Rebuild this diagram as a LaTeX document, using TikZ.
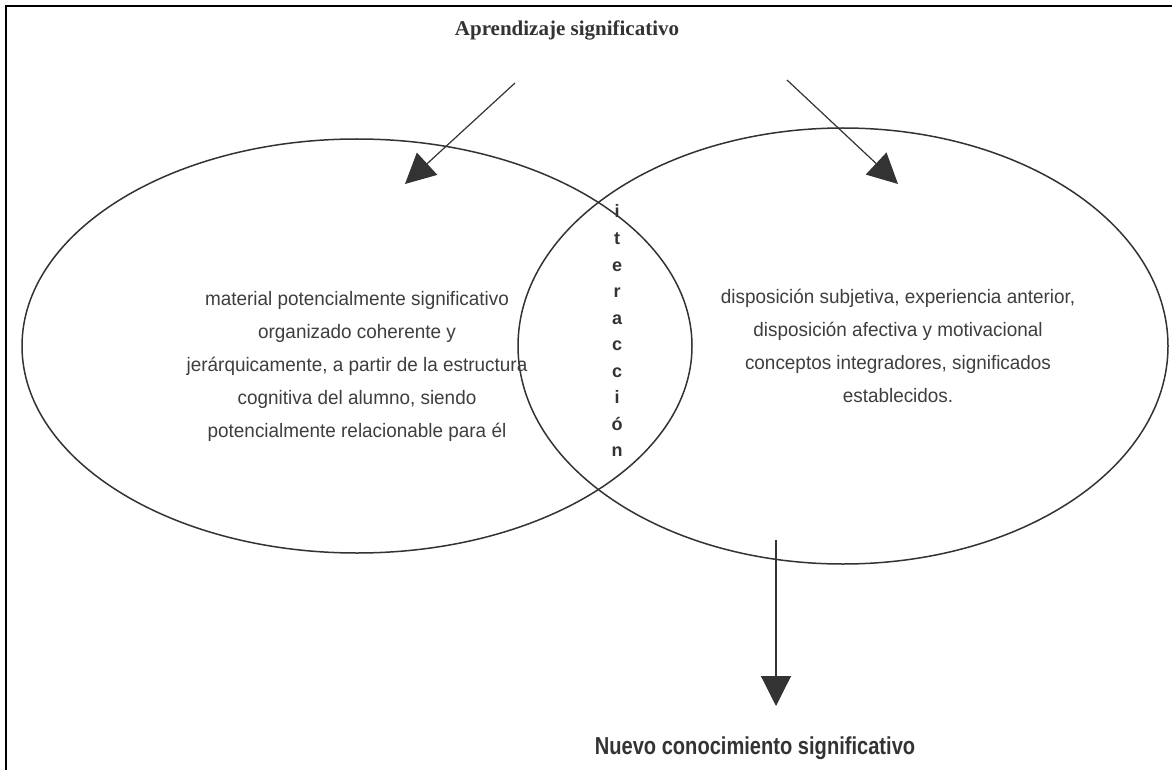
\documentclass[tikz,border=0pt]{standalone}
\usepackage{fontspec}
\setmainfont{Liberation Serif}
\newfontfamily\bodyf[FakeStretch=0.97]{Liberation Sans}
\newfontfamily\boldnarrow[FakeStretch=0.82]{Liberation Sans Bold}
\newfontfamily\letf{Liberation Sans Bold}
\usetikzlibrary{arrows.meta,shapes.geometric}
\definecolor{ink}{HTML}{333333}
\definecolor{txt}{HTML}{3E3E3E}
\tikzset{
  circ/.style={ellipse, draw=ink, line width=1.5pt, inner sep=0pt},
  arr/.style={draw=ink, line width=1.2pt, -{Triangle[length=30pt,width=30pt]}},
  body/.style={align=center, text=txt, font={\bodyf\fontsize{19.5}{33}\selectfont}},
  vlet/.style={text=ink, font={\letf\fontsize{18}{18}\selectfont}, inner sep=0pt},
  frame/.style={draw=black, line width=2.4pt}
}
\begin{document}
\begin{tikzpicture}[x=1pt,y=-1pt]
\useasboundingbox (0,0) rectangle (1172,770);
\fill[white] (0,0) rectangle (1172,770);
\draw[frame] (6,771) -- (6,6) -- (1173,6);

\node[circ, minimum width=670pt, minimum height=414pt] (L) at (357,346) {};
\node[circ, minimum width=650pt, minimum height=436pt] (R) at (843,346) {};

\node[font={\bfseries\fontsize{21}{24}\selectfont}, text=ink] (title) at (567,30) {Aprendizaje significativo};

\coordinate (a1s) at (515,83);
\coordinate (a1e) at (405,184);
\coordinate (a2s) at (787,80);
\coordinate (a2e) at (898,184);
\draw[arr] (a1s) -- (a1e);
\draw[arr] (a2s) -- (a2e);

\node[body] (lt) at (357,366) {material potencialmente significativo\\organizado coherente y\\jerárquicamente, a partir de la estructura\\cognitiva del alumno, siendo\\potencialmente relacionable para él};
\node[body] (rt) at (898,346) {disposición subjetiva, experiencia anterior,\\disposición afectiva y motivacional\\conceptos integradores, significados\\establecidos.};

\foreach \l [count=\i from 0] in {i,t,e,r,a,c,c,i,ó,n}
  \node[vlet, anchor=base] (v\i) at (617,{218+\i*26.5}) {\l};

\coordinate (a3s) at (776,540);
\coordinate (a3e) at (776,706);
\draw[arr] (a3s) -- (a3e);

\node[font={\boldnarrow\fontsize{24.5}{26}\selectfont}, text=ink] (bottom) at (755,748) {Nuevo conocimiento significativo};
\end{tikzpicture}
\end{document}
